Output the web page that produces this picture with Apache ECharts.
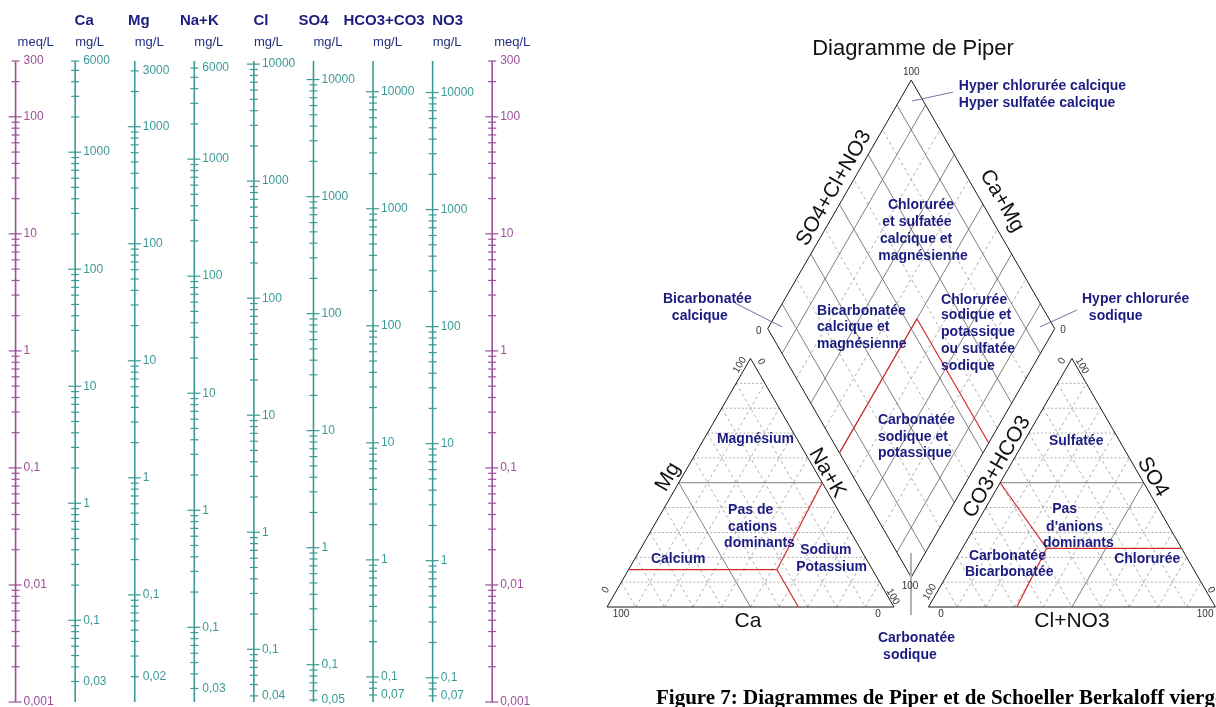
<!DOCTYPE html>
<html>
<head>
<meta charset="utf-8">
<script src="https://cdn.jsdelivr.net/npm/echarts@6.0.0/dist/echarts.min.js"></script>
<style>
  html, body { margin: 0; padding: 0; background: #fff; }
  #chart { width: 1216px; height: 707px; }
</style>
</head>
<body>
<div id="chart"></div>
<script>
// ---------- Schoeller–Berkaloff scales ----------
const ionNames = ['Ca', 'Mg', 'Na+K', 'Cl', 'SO4', 'HCO3+CO3', 'NO3'];
// equivalent weights (mg per meq) used to align each mg/L scale on the meq/L scale
const equivalentWeights = [20.04, 12.15, 22.99, 35.45, 48.03, 61.02, 62.0];
const ionLabelValues = [
  [6000, 1000, 100, 10, 1, 0.1, 0.03],
  [3000, 1000, 100, 10, 1, 0.1, 0.02],
  [6000, 1000, 100, 10, 1, 0.1, 0.03],
  [10000, 1000, 100, 10, 1, 0.1, 0.04],
  [10000, 1000, 100, 10, 1, 0.1, 0.05],
  [10000, 1000, 100, 10, 1, 0.1, 0.07],
  [10000, 1000, 100, 10, 1, 0.1, 0.07]
];
const meqLabelValues = [300, 100, 10, 1, 0.1, 0.01, 0.001];
const MEQ_MIN = 0.001;
const MEQ_MAX = 300;

// ---------- Piper classification boundaries (percentages) ----------
// cation triangle points: [Ca, Mg, Na+K]
const cationBoundaries = [
  [[85, 15, 0], [33.3, 15, 51.7]],
  [[33.3, 0, 66.7], [33.3, 15, 51.7], [0, 50, 50]]
];
// diamond points: [SO4+Cl+NO3, Ca+Mg]
const diamondBoundaries = [
  [[0, 50], [54, 50], [54, 0]]
];
// anion triangle points: [CO3+HCO3, SO4, Cl+NO3]
const anionBoundaries = [
  [[50, 50, 0], [47, 23.6, 29.4], [69.2, 0, 30.8]],
  [[47, 23.6, 29.4], [0, 23.6, 76.4]]
];

// ---------- styling ----------
const FONT = '"Liberation Sans", Arial, sans-serif';
const SERIF = '"Liberation Serif", "Times New Roman", serif';
const PURPLE = '#9b4f9b';
const TEAL = '#3b9a96';
const NAVY = '#1c1c80';
const HEADER_DX = [9, 4, 5, 7, 0, 11, 15];

// ---------- Schoeller: columns, ticks and labels ----------
function fmt(v) { return String(v).replace('.', ','); }

const columns = [];
columns.push({ eq: 1, labels: meqLabelValues, meq: true, unit: 'meq/L', name: '' });
ionNames.forEach((n, i) => columns.push({ eq: equivalentWeights[i], labels: ionLabelValues[i], meq: false, unit: 'mg/L', name: n }));
columns.push({ eq: 1, labels: meqLabelValues, meq: true, unit: 'meq/L', name: '' });

const ticks = [];
const tickLabels = [];
columns.forEach((c, ci) => {
  for (let k = -4; k <= 5; k++) {
    for (let m = 1; m <= 9; m++) {
      const v = +(m * Math.pow(10, k)).toPrecision(6);
      const meq = v / c.eq;
      if (meq >= MEQ_MIN * 0.9999 && meq <= MEQ_MAX * 1.0001) {
        ticks.push({ col: ci, meq: meq, major: m === 1, meqCol: c.meq });
      }
    }
  }
  c.labels.forEach(v => {
    tickLabels.push({ col: ci, meq: v / c.eq, text: fmt(v), meqCol: c.meq });
    if (!ticks.some(t => t.col === ci && Math.abs(t.meq - v / c.eq) < 1e-9)) {
      ticks.push({ col: ci, meq: v / c.eq, major: false, meqCol: c.meq });
    }
  });
});

// ---------- Piper geometry (chart units, triangle side = 100) ----------
const H = Math.sqrt(3) / 2;
const GAP = 12;
const cat = (ca, mg, nak) => [nak + mg / 2, mg * H];
const an = (hco3, so4, cl) => [100 + GAP + cl + so4 / 2, so4 * H];
const dia = (s, c) => [100 + GAP / 2 + (s - c) / 2, GAP * H + (s + c) * H];

const segments = [];
function seg(a, b, kind) { segments.push({ a, b, kind }); }

for (let k = 10; k <= 90; k += 10) {
  // cation triangle
  seg(cat(100 - k, k, 0), cat(0, k, 100 - k), k === 50 ? 'solid' : 'dot');
  seg(cat(k, 100 - k, 0), cat(k, 0, 100 - k), k === 50 ? 'solid' : 'dash');
  seg(cat(100 - k, 0, k), cat(0, 100 - k, k), 'dash');
  // anion triangle
  seg(an(100 - k, k, 0), an(0, k, 100 - k), k === 50 ? 'solid' : 'dot');
  seg(an(100 - k, 0, k), an(0, 100 - k, k), k === 50 ? 'solid' : 'dash');
  seg(an(k, 100 - k, 0), an(k, 0, 100 - k), 'dash');
  // diamond
  seg(dia(k, 0), dia(k, 100), k % 20 === 10 ? 'solid' : 'dash');
  seg(dia(0, k), dia(100, k), k % 20 === 10 ? 'solid' : 'dash');
}
// outlines
seg(cat(100, 0, 0), cat(0, 0, 100), 'outline');
seg(cat(0, 0, 100), cat(0, 100, 0), 'outline');
seg(cat(0, 100, 0), cat(100, 0, 0), 'outline');
seg(an(100, 0, 0), an(0, 0, 100), 'outline');
seg(an(0, 0, 100), an(0, 100, 0), 'outline');
seg(an(0, 100, 0), an(100, 0, 0), 'outline');
seg(dia(0, 0), dia(100, 0), 'outline');
seg(dia(100, 0), dia(100, 100), 'outline');
seg(dia(100, 100), dia(0, 100), 'outline');
seg(dia(0, 100), dia(0, 0), 'outline');
// classification boundaries
function addPolyline(points, toXY) {
  for (let i = 1; i < points.length; i++) seg(toXY(...points[i - 1]), toXY(...points[i]), 'red');
}
cationBoundaries.forEach(p => addPolyline(p, cat));
diamondBoundaries.forEach(p => addPolyline(p, dia));
anionBoundaries.forEach(p => addPolyline(p, an));
// leader lines from the names to their corners
seg([120.6, 179.4], [106.3, 176.3], 'leader');
seg([44.6, 105.9], [61.0, 97.6], 'leader');
seg([163.8, 103.5], [150.9, 97.6], 'leader');
seg([105.9, 18.8], [105.9, -2.8], 'leaderGray');

const SEG_STYLE = {
  outline: { stroke: '#1a1a1a', lineWidth: 1 },
  solid: { stroke: '#6f6f6f', lineWidth: 0.9 },
  dash: { stroke: '#9a9a9a', lineWidth: 0.8, lineDash: [3, 3] },
  dot: { stroke: '#9a9a9a', lineWidth: 0.8, lineDash: [2, 2] },
  red: { stroke: '#d42a2a', lineWidth: 1.2 },
  leader: { stroke: '#5d6699', lineWidth: 0.9 },
  leaderGray: { stroke: '#b0b0b0', lineWidth: 2 }
};

// region names (chart units)
const notes = [
  ['Hyper chlorurée calcique', 122.6, 181.5, 'left'],
  ['Hyper sulfatée calcique', 122.6, 175.6, 'left'],
  ['Chlorurée', 109.4, 140.1, 'center'],
  ['et sulfatée', 108.0, 134.2, 'center'],
  ['calcique et', 107.7, 128.2, 'center'],
  ['magnésienne', 110.1, 122.3, 'center'],
  ['Bicarbonatée', 19.5, 107.3, 'left'],
  ['calcique', 22.6, 101.4, 'left'],
  ['Bicarbonatée', 73.2, 103.1, 'left'],
  ['calcique et', 73.2, 97.6, 'left'],
  ['magnésienne', 73.2, 91.6, 'left'],
  ['Chlorurée', 116.4, 107.0, 'left'],
  ['sodique et', 116.4, 101.7, 'left'],
  ['potassique', 116.4, 95.8, 'left'],
  ['ou sulfatée', 116.4, 89.9, 'left'],
  ['sodique', 116.4, 84.0, 'left'],
  ['Hyper chlorurée', 165.5, 107.3, 'left'],
  ['sodique', 167.9, 101.4, 'left'],
  ['Carbonatée', 94.4, 65.2, 'left'],
  ['sodique et', 94.4, 59.2, 'left'],
  ['potassique', 94.4, 53.7, 'left'],
  ['Magnésium', 38.3, 58.5, 'left'],
  ['Pas de', 42.2, 33.8, 'left'],
  ['cations', 42.2, 27.9, 'left'],
  ['dominants', 40.8, 22.3, 'left'],
  ['Calcium', 15.3, 16.7, 'left'],
  ['Sodium', 67.3, 19.9, 'left'],
  ['Potassium', 65.9, 13.9, 'left'],
  ['Sulfatée', 154.0, 57.8, 'left'],
  ['Pas', 155.1, 34.2, 'left'],
  ["d'anions", 153.0, 27.9, 'left'],
  ['dominants', 151.9, 22.3, 'left'],
  ['Carbonatée', 126.1, 17.8, 'left'],
  ['Bicarbonatée', 124.7, 12.2, 'left'],
  ['Chlorurée', 176.7, 16.7, 'left'],
  ['Carbonatée', 94.4, -10.8, 'left'],
  ['sodique', 96.2, -16.7, 'left']
];
const R = Math.PI / 3;
// axis names: text, u, v, rotation
const axisNames = [
  ['Ca', 49.1, -4.9, 0],
  ['Cl+NO3', 162.0, -4.9, 0],
  ['Mg', 21.3, 45.3, R],
  ['Na+K', 76.7, 46.7, -R],
  ['SO4+Cl+NO3', 79.1, 146.0, R],
  ['Ca+Mg', 137.6, 141.5, -R],
  ['CO3+HCO3', 135.9, 48.8, R],
  ['SO4', 190.2, 45.3, -R]
];
// scale end values: text, u, v, rotation
const endValues = [
  ['100', 106.0, 186.4, 0],
  ['0', 52.9, 96.2, 0],
  ['0', 158.9, 96.5, 0],
  ['100', 105.6, 7.3, 0],
  ['100', 46.3, 84.3, R],
  ['0', 53.7, 85.4, -R],
  ['0', -0.4, 5.9, R],
  ['100', 99.6, 3.6, -R],
  ['100', 4.9, -2.4, 0],
  ['0', 94.4, -2.4, 0],
  ['0', 116.4, -2.4, 0],
  ['100', 208.4, -2.4, 0],
  ['100', 112.5, 5.2, R],
  ['0', 158.5, 85.7, R],
  ['100', 165.5, 84.0, -R],
  ['0', 210.5, 5.9, -R]
];

function textEl(api, u, v, text, opts) {
  const p = api.coord([u, v]);
  return {
    type: 'text', x: p[0], y: p[1], rotation: opts.rotation || 0,
    style: {
      text: text, x: 0, y: 0, fill: opts.fill, font: opts.font,
      align: opts.align || 'center', verticalAlign: 'middle'
    }
  };
}

const option = {
  animation: false,
  backgroundColor: '#ffffff',
  title: [
    { text: 'Diagramme de Piper', left: 908, top: 33, textAlign: 'center',
      textStyle: { fontFamily: FONT, fontSize: 22, fontWeight: 'normal', color: '#111' } },
    { text: 'Figure 7: Diagrammes de Piper et de Schoeller Berkaloff vierge', left: 651, top: 683,
      textStyle: { fontFamily: SERIF, fontSize: 21, fontWeight: 'bold', color: '#000' } }
  ],
  grid: [
    { left: 15.6, top: 61, width: 476.6, height: 641 },
    { left: 607, top: 33, width: 608.44, height: 574 }
  ],
  xAxis: [
    { type: 'value', gridIndex: 0, min: 0, max: 8, show: false },
    { type: 'value', gridIndex: 1, min: 0, max: 212, show: false }
  ],
  yAxis: [
    { type: 'log', gridIndex: 0, min: MEQ_MIN, max: MEQ_MAX, logBase: 10, show: false },
    { type: 'value', gridIndex: 1, min: 0, max: 200, show: false }
  ],
  series: [
    // vertical scale lines
    {
      type: 'custom', xAxisIndex: 0, yAxisIndex: 0, silent: true,
      data: columns.map((c, i) => [i, MEQ_MAX]),
      renderItem: (params, api) => {
        const c = columns[params.dataIndex];
        const t = api.coord([params.dataIndex, MEQ_MAX]);
        const b = api.coord([params.dataIndex, MEQ_MIN]);
        return { type: 'line', shape: { x1: t[0], y1: t[1], x2: b[0], y2: b[1] },
          style: { stroke: c.meq ? PURPLE : TEAL, lineWidth: 1.6 } };
      }
    },
    // ticks
    {
      type: 'custom', xAxisIndex: 0, yAxisIndex: 0, silent: true,
      data: ticks.map(t => [t.col, t.meq]),
      renderItem: (params, api) => {
        const t = ticks[params.dataIndex];
        const p = api.coord([t.col, t.meq]);
        const l = t.major ? 7 : 4, r = t.major ? 6 : 4;
        return { type: 'line', shape: { x1: p[0] - l, y1: p[1], x2: p[0] + r, y2: p[1] },
          style: { stroke: t.meqCol ? PURPLE : TEAL, lineWidth: 1.2 } };
      }
    },
    // tick values
    {
      type: 'custom', xAxisIndex: 0, yAxisIndex: 0, silent: true,
      data: tickLabels.map(t => [t.col, t.meq]),
      renderItem: (params, api) => {
        const t = tickLabels[params.dataIndex];
        const p = api.coord([t.col, t.meq]);
        return { type: 'text', x: p[0] + 8, y: p[1],
          style: { text: t.text, x: 0, y: 0, fill: t.meqCol ? PURPLE : TEAL,
            font: '12px ' + FONT, align: 'left', verticalAlign: 'middle' } };
      }
    },
    // column headers
    {
      type: 'custom', xAxisIndex: 0, yAxisIndex: 0, silent: true,
      data: columns.map((c, i) => [i, MEQ_MAX]),
      renderItem: (params, api) => {
        const i = params.dataIndex;
        const c = columns[i];
        const p = api.coord([i, MEQ_MAX]);
        const children = [{
          type: 'text', x: p[0] + (c.meq ? 2 : 0), y: p[1] - 19,
          style: { text: c.unit, x: 0, y: 0, fill: '#22307f', font: '13px ' + FONT,
            align: 'left', verticalAlign: 'middle' }
        }];
        if (c.name) {
          children.push({
            type: 'text', x: p[0] + HEADER_DX[i - 1], y: p[1] - 40,
            style: { text: c.name, x: 0, y: 0, fill: NAVY, font: 'bold 15px ' + FONT,
              align: 'center', verticalAlign: 'middle' }
          });
        }
        return { type: 'group', children };
      }
    },
    // Piper grid, outlines, boundaries and leaders
    {
      type: 'custom', xAxisIndex: 1, yAxisIndex: 1, silent: true,
      data: segments.map(s => [s.a[0], s.a[1], s.b[0], s.b[1]]),
      encode: { x: [0, 2], y: [1, 3] },
      renderItem: (params, api) => {
        const s = segments[params.dataIndex];
        const a = api.coord(s.a), b = api.coord(s.b);
        return { type: 'line', shape: { x1: a[0], y1: a[1], x2: b[0], y2: b[1] },
          style: Object.assign({ fill: null }, SEG_STYLE[s.kind]) };
      }
    },
    // region names
    {
      type: 'custom', xAxisIndex: 1, yAxisIndex: 1, silent: true,
      data: notes.map(n => [n[1], n[2]]),
      renderItem: (params, api) => {
        const n = notes[params.dataIndex];
        return textEl(api, n[1], n[2], n[0], { fill: NAVY, font: 'bold 14px ' + FONT, align: n[3] });
      }
    },
    // axis names
    {
      type: 'custom', xAxisIndex: 1, yAxisIndex: 1, silent: true,
      data: axisNames.map(n => [n[1], n[2]]),
      renderItem: (params, api) => {
        const n = axisNames[params.dataIndex];
        return textEl(api, n[1], n[2], n[0], { fill: '#111', font: '21px ' + FONT, rotation: n[3] });
      }
    },
    // scale end values
    {
      type: 'custom', xAxisIndex: 1, yAxisIndex: 1, silent: true,
      data: endValues.map(n => [n[1], n[2]]),
      renderItem: (params, api) => {
        const n = endValues[params.dataIndex];
        return textEl(api, n[1], n[2], n[0], { fill: '#333', font: '10px ' + FONT, rotation: n[3] });
      }
    }
  ]
};

echarts.init(document.getElementById('chart')).setOption(option);
</script>
</body>
</html>
